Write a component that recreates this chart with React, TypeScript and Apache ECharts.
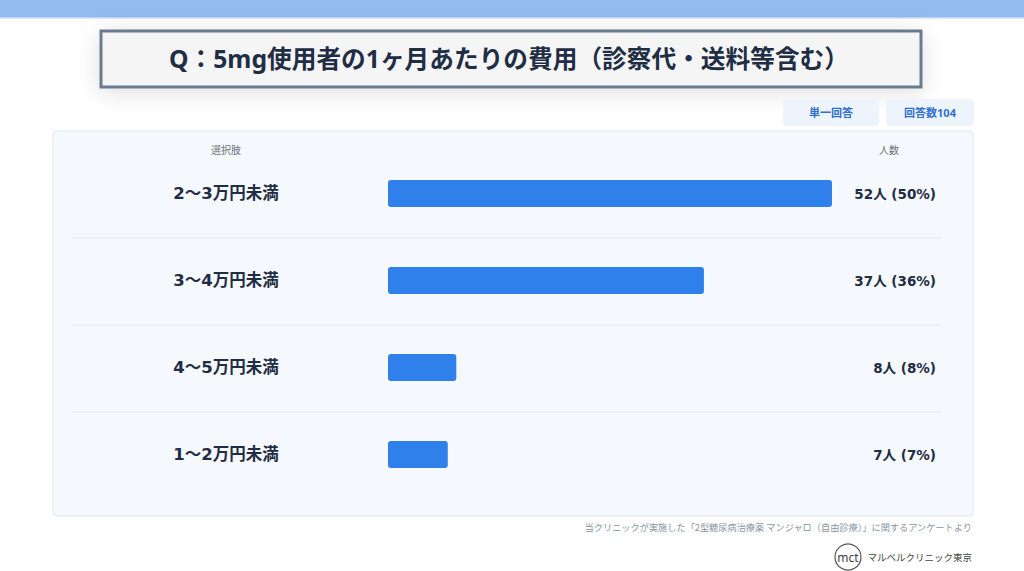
import React, { useEffect, useRef } from "react";
import * as echarts from "echarts";

const categories = ["2〜3万円未満", "3〜4万円未満", "4〜5万円未満", "1〜2万円未満"];
const counts = [52, 37, 8, 7];
const percents = [50, 36, 8, 7];
const titleText = "Q：5mg使用者の1ヶ月あたりの費用（診察代・送料等含む）";
const badgeTexts = ["単一回答", "回答数104"];
const headerLeft = "選択肢";
const headerRight = "人数";
const footerText = "当クリニックが実施した「2型糖尿病治療薬 マンジャロ（自由診療）」に関するアンケートより";
const brandText = "マルベルクリニック東京";

const FONT = "'Noto Sans', 'Noto Sans CJK JP', sans-serif";
const WIDE = "'DejaVu Sans', 'Noto Sans CJK JP', sans-serif";
const CJK = "'Noto Sans CJK JP', 'Noto Sans', sans-serif";

export default function App() {
  const ref = useRef<HTMLDivElement>(null);
  useEffect(() => {
    if (!ref.current) return;
    const chart = echarts.init(ref.current, null, { renderer: "svg" });
    const valueLabels = counts.map((c, i) => `${c}人 (${percents[i]}%)`);
    const sepYs = [238, 325, 412];
    chart.setOption({
      animation: false,
      backgroundColor: "#ffffff",
      textStyle: { fontFamily: FONT },
      grid: { left: 388, width: 444, top: 150, height: 348, containLabel: false },
      xAxis: { type: "value", min: 0, max: 52, show: false },
      yAxis: [
        {
          type: "category",
          data: categories,
          inverse: true,
          axisLine: { show: false },
          axisTick: { show: false },
          splitLine: { show: false },
          axisLabel: {
            align: "center",
            margin: 162,
            fontSize: 16.5,
            fontWeight: "bold",
            color: "#1f2d45",
            fontFamily: WIDE,
            padding: [0, 0, 4, 0],
          },
          z: 10,
        },
        {
          type: "category",
          position: "right",
          data: valueLabels,
          inverse: true,
          axisLine: { show: false },
          axisTick: { show: false },
          splitLine: { show: false },
          axisLabel: {
            align: "right",
            margin: 104,
            fontSize: 13.5,
            fontWeight: "bold",
            color: "#1f2d45",
            fontFamily: WIDE,
            padding: [0, 0, 4, 0],
          },
          z: 10,
        },
      ],
      series: [
        {
          type: "bar",
          data: counts,
          yAxisIndex: 0,
          barWidth: 27,
          itemStyle: { color: "#2f80ea", borderRadius: 3 },
          z: 10,
        },
      ],
      graphic: [
        { type: "rect", shape: { x: 0, y: 0, width: 1024, height: 18 }, style: { fill: "#93bbf0" }, z: 1 },
        { type: "rect", shape: { x: 0, y: 17, width: 1024, height: 1.5 }, style: { fill: "#bcd4f5" }, z: 1 },
        {
          type: "rect",
          shape: { x: 101, y: 31, width: 820, height: 56 },
          style: {
            fill: "#f5f5f6",
            stroke: "#6b7a8f",
            lineWidth: 3,
            shadowBlur: 24,
            shadowColor: "rgba(0,0,0,0.13)",
            shadowOffsetY: 4,
          },
          z: 1,
        },
        {
          type: "text",
          x: 509,
          y: 58,
          style: {
            text: titleText,
            fill: "#1f2d45",
            font: `bold 24.7px ${FONT}`,
            textAlign: "center",
            textVerticalAlign: "middle",
          },
          z: 2,
        },
        {
          type: "rect",
          shape: { x: 783, y: 99, width: 96, height: 27, r: 4 },
          style: { fill: "#eef4fc" },
          z: 1,
        },
        {
          type: "rect",
          shape: { x: 886, y: 99, width: 88, height: 27, r: 4 },
          style: { fill: "#eef4fc" },
          z: 1,
        },
        {
          type: "text",
          x: 831,
          y: 112,
          style: {
            text: badgeTexts[0],
            fill: "#2f6fd0",
            font: `bold 11px ${FONT}`,
            textAlign: "center",
            textVerticalAlign: "middle",
          },
          z: 2,
        },
        {
          type: "text",
          x: 930,
          y: 112,
          style: {
            text: badgeTexts[1],
            fill: "#2f6fd0",
            font: `bold 11px ${FONT}`,
            textAlign: "center",
            textVerticalAlign: "middle",
          },
          z: 2,
        },
        {
          type: "rect",
          shape: { x: 53, y: 131, width: 920, height: 385, r: 4 },
          style: { fill: "#f5f8fc", stroke: "#dfe7f0", lineWidth: 1 },
          z: 0,
        },
        {
          type: "text",
          x: 226,
          y: 149,
          style: {
            text: headerLeft,
            fill: "#6b7280",
            font: `10px ${CJK}`,
            textAlign: "center",
            textVerticalAlign: "middle",
          },
          z: 2,
        },
        {
          type: "text",
          x: 889,
          y: 149,
          style: {
            text: headerRight,
            fill: "#6b7280",
            font: `10px ${CJK}`,
            textAlign: "center",
            textVerticalAlign: "middle",
          },
          z: 2,
        },
        ...sepYs.map((y) => ({
          type: "line",
          shape: { x1: 72, y1: y, x2: 941, y2: y },
          style: { stroke: "#e3e8ef", lineWidth: 1 },
          z: 2,
        })),
        {
          type: "text",
          x: 972,
          y: 527,
          style: {
            text: footerText,
            fill: "#8a94a3",
            font: `9.2px ${CJK}`,
            textAlign: "right",
            textVerticalAlign: "middle",
          },
          z: 2,
        },
        {
          type: "circle",
          shape: { cx: 848, cy: 557, r: 13 },
          style: { fill: "#ffffff", stroke: "#555555", lineWidth: 1.2 },
          z: 2,
        },
        {
          type: "text",
          x: 848,
          y: 557,
          style: {
            text: "mct",
            fill: "#444444",
            font: `12px ${FONT}`,
            textAlign: "center",
            textVerticalAlign: "middle",
          },
          z: 3,
        },
        {
          type: "text",
          x: 972,
          y: 557,
          style: {
            text: brandText,
            fill: "#444444",
            font: `9.5px ${CJK}`,
            textAlign: "right",
            textVerticalAlign: "middle",
          },
          z: 3,
        },
      ],
    });
    return () => chart.dispose();
  }, []);
  return (
    <div
      ref={ref}
      style={{ position: "absolute", left: 0, top: 0, width: 1024, height: 571 }}
    />
  );
}
